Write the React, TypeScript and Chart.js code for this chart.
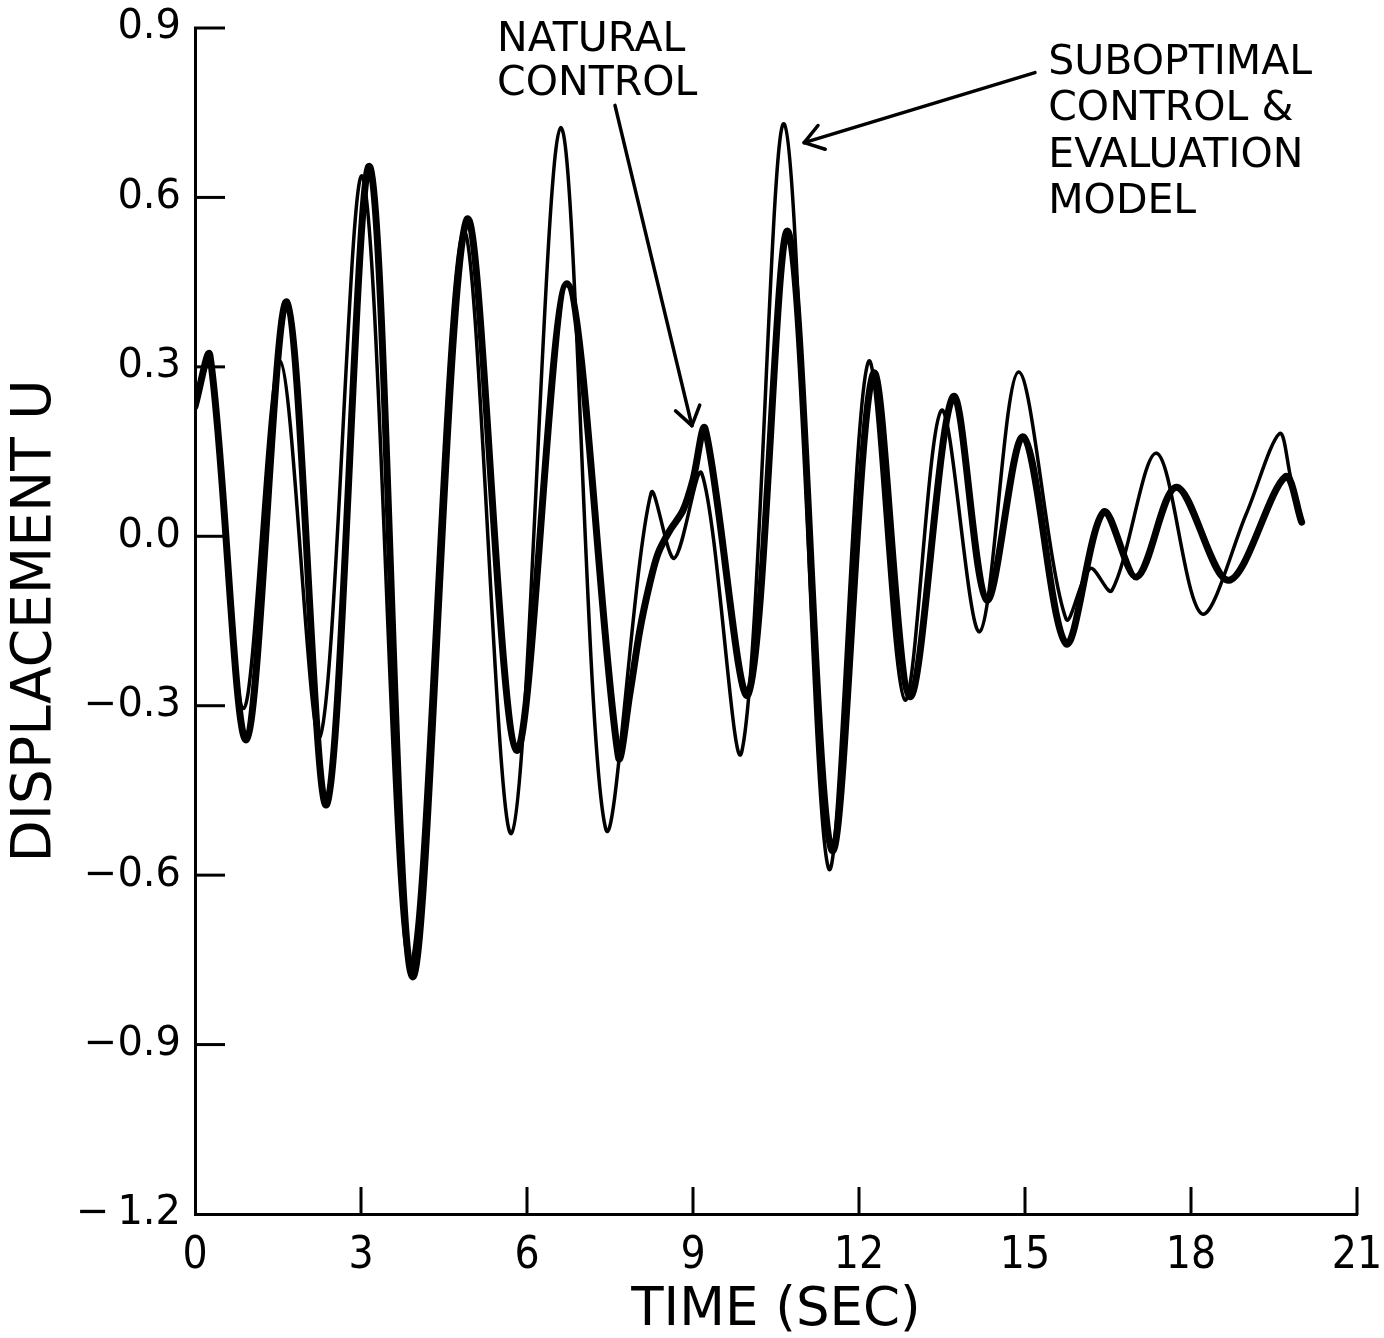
import { useEffect, useRef } from 'react';
import { Chart, registerables } from 'chart.js';

Chart.register(...registerables);

// Natural control (thick line)
const naturalTime = [0, 0.27, 0.93, 1.66, 2.38, 3.16, 3.93, 4.91, 5.81, 6.72, 7.65, 7.86, 8.04, 8.22, 8.37, 8.58, 8.82, 9.0, 9.22, 10.0, 10.72, 11.51, 12.26, 12.92, 13.7, 14.31, 14.97, 15.74, 16.42, 17.02, 17.74, 18.68, 19.7, 20.0];
const naturalDisp = [0.23, 0.32, -0.36, 0.415, -0.475, 0.654, -0.78, 0.56, -0.379, 0.447, -0.39, -0.278, -0.166, -0.083, -0.03, 0.01, 0.046, 0.1, 0.19, -0.279, 0.539, -0.556, 0.288, -0.284, 0.247, -0.113, 0.176, -0.19, 0.043, -0.072, 0.087, -0.078, 0.105, 0.025];

// Suboptimal control & evaluation model (thin line)
const suboptTime = [0, 0.27, 0.88, 1.54, 2.26, 3.03, 3.88, 4.85, 5.72, 6.61, 7.42, 8.24, 8.66, 9.16, 9.88, 10.65, 11.45, 12.17, 12.83, 13.49, 14.18, 14.88, 15.74, 16.18, 16.57, 17.38, 18.19, 19.0, 19.6, 19.8, 20.0];
const suboptDisp = [0.23, 0.32, -0.305, 0.31, -0.355, 0.636, -0.76, 0.54, -0.526, 0.724, -0.517, 0.076, -0.039, 0.111, -0.382, 0.73, -0.588, 0.309, -0.29, 0.223, -0.169, 0.291, -0.146, -0.057, -0.096, 0.147, -0.137, 0.04, 0.182, 0.105, 0.025];

const xTicks = [0, 3, 6, 9, 12, 15, 18, 21];
const xTickLabels = ['0', '3', '6', '9', '12', '15', '18', '21'];
const yTicks = [-1.2, -0.9, -0.6, -0.3, 0, 0.3, 0.6, 0.9];
const yTickLabels = ['\u2212\u20091.2', '\u22120.9', '\u22120.6', '\u22120.3', '0.0', '0.3', '0.6', '0.9'];

const naturalLabel = ['NATURAL', 'CONTROL'];
const suboptLabel = ['SUBOPTIMAL', 'CONTROL &', 'EVALUATION', 'MODEL'];

const decorPlugin = {
  id: 'decor',
  afterDatasetsDraw(chart: any) {
    const { ctx, scales } = chart;
    const x = scales.x;
    const y = scales.y;
    const px = (v: number) => x.getPixelForValue(v);
    const py = (v: number) => y.getPixelForValue(v);
    const seg = (x1: number, y1: number, x2: number, y2: number) => {
      ctx.beginPath();
      ctx.moveTo(x1, y1);
      ctx.lineTo(x2, y2);
      ctx.stroke();
    };
    ctx.save();
    ctx.strokeStyle = '#000';
    ctx.fillStyle = '#000';
    ctx.lineWidth = 3;
    ctx.lineCap = 'butt';
    const left = px(0);
    const bottom = py(-1.2);
    // inward tick marks
    yTicks.forEach((v) => {
      if (v === -1.2) return;
      seg(left - 1, py(v), left + 30, py(v));
    });
    xTicks.forEach((v) => {
      if (v === 0) return;
      seg(px(v), bottom + 1, px(v), bottom - 27);
    });

    // annotations
    ctx.font = '41px "DejaVu Sans"';
    ctx.textAlign = 'left';
    ctx.textBaseline = 'alphabetic';
    naturalLabel.forEach((t, i) => ctx.fillText(t, px(5.46), py(0.86) + i * 44));
    suboptLabel.forEach((t, i) => ctx.fillText(t, px(15.42), py(0.819) + i * 46.5));

    const arrow = (t0: number, v0: number, t1: number, v1: number) => {
      const x0 = px(t0), y0 = py(v0), x1 = px(t1), y1 = py(v1);
      ctx.lineWidth = 3.5;
      ctx.lineCap = 'round';
      seg(x0, y0, x1, y1);
      const ang = Math.atan2(y0 - y1, x0 - x1);
      const L = 22;
      const spread = 0.6;
      seg(x1, y1, x1 + L * Math.cos(ang + spread), y1 + L * Math.sin(ang + spread));
      seg(x1, y1, x1 + L * Math.cos(ang - spread), y1 + L * Math.sin(ang - spread));
    };
    arrow(7.59, 0.763, 8.98, 0.196);
    arrow(15.18, 0.821, 11.01, 0.697);
    ctx.restore();
  },
};

export default function App() {
  const ref = useRef<HTMLCanvasElement | null>(null);
  useEffect(() => {
    if (!ref.current) return;
    const chart = new Chart(ref.current, {
      type: 'line',
      data: {
        datasets: [
          {
            label: 'Natural control',
            data: naturalTime.map((t, i) => ({ x: t, y: naturalDisp[i] })),
            borderColor: '#000',
            borderWidth: 7,
            pointRadius: 0,
            fill: false,
            tension: 0.32,
            borderCapStyle: 'round',
            borderJoinStyle: 'round',
          },
          {
            label: 'Suboptimal control & evaluation model',
            data: suboptTime.map((t, i) => ({ x: t, y: suboptDisp[i] })),
            borderColor: '#000',
            borderWidth: 3.5,
            pointRadius: 0,
            fill: false,
            tension: 0.32,
            borderCapStyle: 'round',
            borderJoinStyle: 'round',
          },
        ],
      },
      options: {
        animation: false,
        responsive: false,
        devicePixelRatio: 1,
        layout: { padding: { left: 0, right: 27, top: 28, bottom: 0 } },
        plugins: { legend: { display: false }, tooltip: { enabled: false } },
        scales: {
          x: {
            type: 'linear',
            min: 0,
            max: 21,
            afterBuildTicks: (s: any) => {
              s.ticks = xTicks.map((v) => ({ value: v }));
            },
            afterFit: (s: any) => {
              s.height = 124;
              s.paddingLeft = 0;
              s.paddingRight = 0;
            },
            grid: { display: false, drawTicks: false },
            border: { display: true, color: '#000', width: 3 },
            ticks: {
              color: '#000',
              padding: 16,
              maxRotation: 0,
              autoSkip: false,
              font: { family: '"Liberation Sans Narrow", "DejaVu Sans Condensed", sans-serif', size: 44 },
              callback: (_v: any, i: number) => xTickLabels[i],
            },
            title: {
              display: true,
              text: 'TIME (SEC)',
              color: '#000',
              font: { family: '"DejaVu Sans"', size: 53, lineHeight: 1.0 },
              padding: { top: 0, bottom: 0 },
            },
          },
          y: {
            type: 'linear',
            min: -1.2,
            max: 0.9,
            afterBuildTicks: (s: any) => {
              s.ticks = yTicks.map((v) => ({ value: v }));
            },
            afterFit: (s: any) => {
              s.width = 195;
              s.paddingTop = 0;
              s.paddingBottom = 0;
            },
            grid: { display: false, drawTicks: false },
            border: { display: true, color: '#000', width: 3 },
            ticks: {
              color: '#000',
              padding: 14,
              autoSkip: false,
              font: { family: '"DejaVu Sans"', size: 40 },
              callback: (_v: any, i: number) => yTickLabels[i],
            },
            title: {
              display: true,
              text: 'DISPLACEMENT U',
              color: '#000',
              font: { family: '"DejaVu Sans"', size: 55, lineHeight: 1.0 },
              padding: { top: 8, bottom: 0 },
            },
          },
        },
      } as any,
      plugins: [decorPlugin],
    });
    return () => chart.destroy();
  }, []);
  return (
    <div style={{ position: 'absolute', left: 0, top: 0, width: 1384, height: 1338, background: '#fff' }}>
      <canvas ref={ref} width={1384} height={1338} style={{ width: 1384, height: 1338, display: 'block' }} />
    </div>
  );
}
